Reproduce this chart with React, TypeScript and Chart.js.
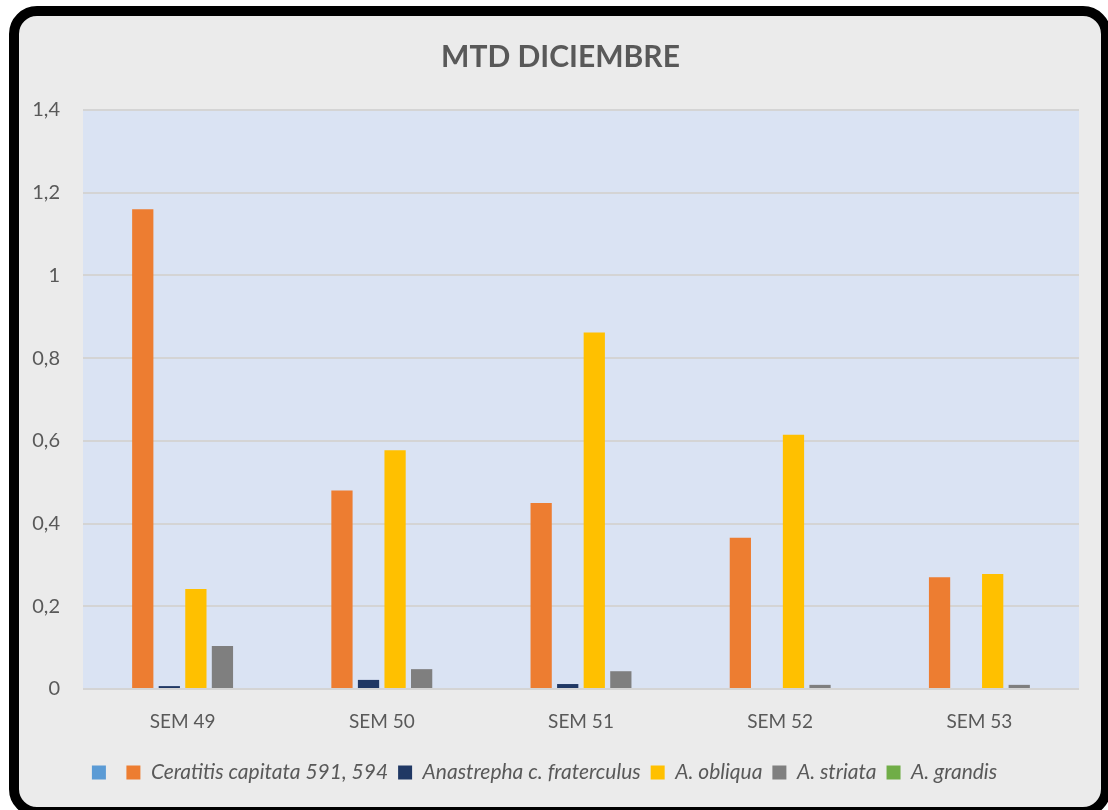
import React, { useEffect, useRef } from "react";
import { Chart, registerables } from "chart.js";

Chart.register(...registerables);

const chartTitle = "MTD DICIEMBRE";
const categories = ["SEM 49", "SEM 50", "SEM 51", "SEM 52", "SEM 53"];
const yTicks = [0, 0.2, 0.4, 0.6, 0.8, 1, 1.2, 1.4];

const blankSeries = [0, 0, 0, 0, 0];
const ceratitis = [1.16, 0.48, 0.45, 0.366, 0.27];
const fraterculus = [0.007, 0.022, 0.012, 0, 0];
const obliqua = [0.242, 0.577, 0.862, 0.615, 0.278];
const striata = [0.104, 0.048, 0.043, 0.01, 0.01];
const grandis = [0, 0, 0, 0, 0];

const seriesLabels = [
  "",
  "Ceratitis capitata 591, 594",
  "Anastrepha c. fraterculus",
  "A. obliqua",
  "A. striata",
  "A. grandis",
];
const seriesColors = ["#5b9bd5", "#ed7d31", "#203864", "#ffc000", "#7f7f7f", "#70ad47"];
const seriesValues = [blankSeries, ceratitis, fraterculus, obliqua, striata, grandis];

const TEXT = "#595959";

const plotBg = {
  id: "plotBg",
  beforeDraw(chart: any) {
    const { ctx, chartArea } = chart;
    ctx.save();
    ctx.fillStyle = "#dae3f3";
    ctx.fillRect(chartArea.left, chartArea.top, chartArea.right - chartArea.left, chartArea.bottom - chartArea.top);
    ctx.restore();
  },
};

// centre the title on the whole framed box rather than on the padded chart
const titleShift = {
  id: "titleShift",
  afterLayout(chart: any) {
    const t = chart.titleBlock;
    if (t) {
      t.left += 16;
      t.right += 16;
    }
  },
};

export default function App() {
  const ref = useRef<HTMLCanvasElement | null>(null);

  useEffect(() => {
    if (!ref.current) return;
    Chart.defaults.font.family = "Lato, 'Open Sans', sans-serif";
    const chart = new Chart(ref.current, {
      type: "bar",
      data: {
        labels: categories,
        datasets: seriesValues.map((vals, i) => ({
          label: seriesLabels[i],
          data: vals,
          backgroundColor: seriesColors[i],
          borderWidth: 0,
          categoryPercentage: 0.8,
          barPercentage: 0.8,
        })),
      },
      options: {
        responsive: false,
        animation: false,
        layout: { padding: { top: 20, left: 10, right: 29, bottom: 17 } },
        plugins: {
          title: {
            display: true,
            text: chartTitle,
            color: TEXT,
            font: { size: 30, weight: "bold" },
            padding: { top: 19, bottom: 35 },
          },
          legend: {
            position: "bottom",
            labels: {
              color: TEXT,
              font: { size: 21, style: "italic" },
              boxWidth: 14,
              boxHeight: 14,
              padding: 10,
            },
          },
          tooltip: { enabled: false },
        },
        scales: {
          x: {
            grid: { display: false },
            border: { display: false },
            ticks: { color: TEXT, font: { size: 19 }, padding: 13 },
            afterFit(scale: any) {
              scale.height = 63;
            },
          },
          y: {
            min: 0,
            max: 1.4,
            grid: { color: "#d4d4d4", lineWidth: 2, drawTicks: false },
            border: { display: false },
            afterBuildTicks(scale: any) {
              scale.ticks = yTicks.map((v) => ({ value: v }));
            },
            ticks: {
              color: TEXT,
              font: { size: 20 },
              padding: 23,
              callback: (v: any) => String(Number(Number(v).toFixed(1))).replace(".", ","),
            },
            afterFit(scale: any) {
              scale.width = 73;
            },
          },
        },
      },
      plugins: [plotBg, titleShift],
    } as any);
    return () => chart.destroy();
  }, []);

  return (
    <div
      style={{
        position: "fixed",
        left: 0,
        top: 0,
        width: 1108,
        height: 810,
        overflow: "hidden",
        background: "#ffffff",
      }}
    >
      <div
        style={{
          position: "absolute",
          left: 9,
          top: 6,
          width: 1102,
          height: 811,
          boxSizing: "border-box",
          border: "10px solid #000",
          borderRadius: 28,
          background: "#ebebeb",
        }}
      />
      <canvas
        ref={ref}
        width={1108}
        height={810}
        style={{ position: "absolute", left: 0, top: 0, width: 1108, height: 810 }}
      />
    </div>
  );
}
